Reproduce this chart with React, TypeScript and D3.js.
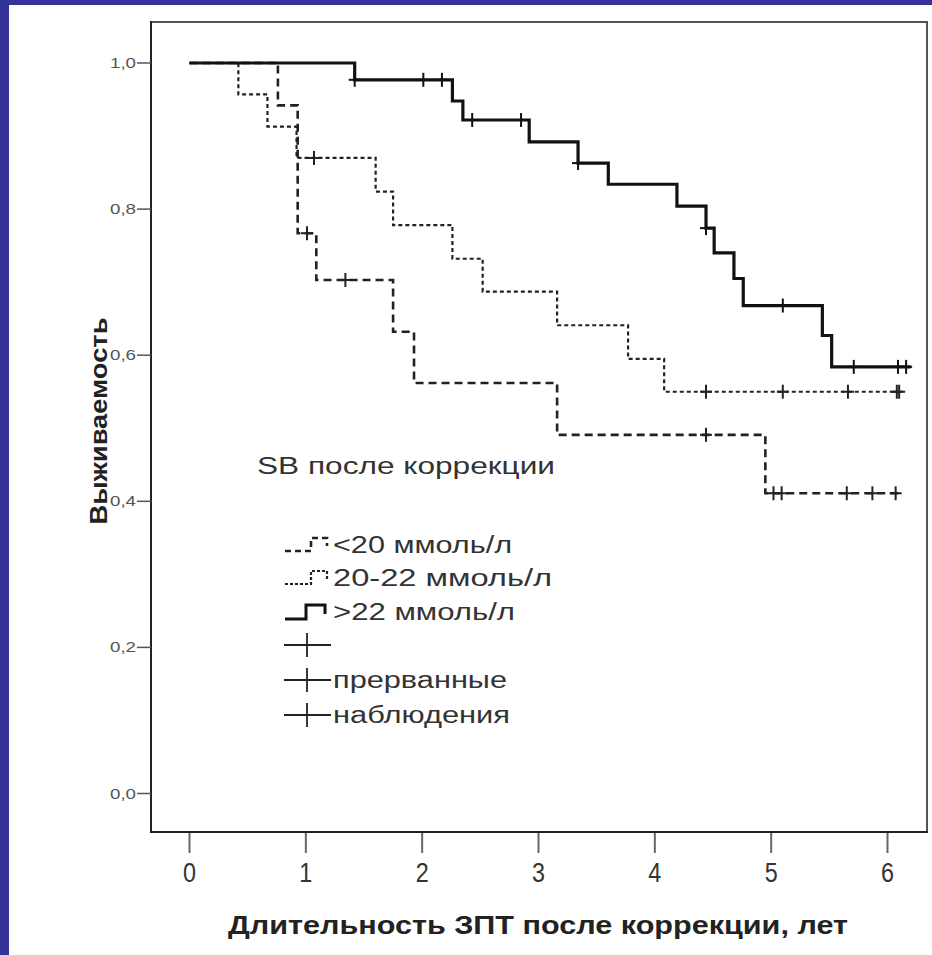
import React from "react";
import * as d3 from "d3";

// ---- data ----
const xTicks = [0, 1, 2, 3, 4, 5, 6];
const yTicks = [0, 0.2, 0.4, 0.6, 0.8, 1.0];
const yTickLabels = ["0,0", "0,2", "0,4", "0,6", "0,8", "1,0"];

// <20 ммоль/л (dashed)
const lt20Times = [0, 0.76, 0.93, 1.09, 1.75, 1.93, 3.16, 4.95, 6.13];
const lt20Surv = [1.0, 0.942, 0.767, 0.703, 0.632, 0.562, 0.491, 0.411, 0.411];
const lt20Censor = [1.01, 1.34, 4.44, 5.02, 5.09, 5.65, 5.87, 6.07];

// 20-22 ммоль/л (dotted)
const midTimes = [0, 0.42, 0.67, 0.92, 1.6, 1.75, 2.26, 2.52, 3.16, 3.77, 4.08, 6.13];
const midSurv = [1.0, 0.957, 0.913, 0.87, 0.824, 0.778, 0.732, 0.687, 0.641, 0.595, 0.55, 0.55];
const midCensor = [1.07, 4.44, 5.1, 5.66, 6.08, 6.1];

// >22 ммоль/л (solid)
const gt22Times = [0, 1.42, 2.26, 2.35, 2.92, 3.34, 3.6, 4.19, 4.44, 4.51, 4.68, 4.76, 5.44, 5.52, 6.2];
const gt22Surv = [1.0, 0.977, 0.948, 0.922, 0.892, 0.863, 0.834, 0.804, 0.774, 0.74, 0.705, 0.668, 0.627, 0.584, 0.584];
const gt22Censor = [1.42, 2.01, 2.17, 2.43, 2.85, 3.34, 4.44, 5.1, 5.71, 6.09, 6.16];

const legendTitle = "SB после коррекции";
const legendLabels = ["<20 ммоль/л", "20-22 ммоль/л", ">22 ммоль/л", "", "прерванные", "наблюдения"];
const xTitle = "Длительность ЗПТ после коррекции, лет";
const yTitle = "Выживаемость";

const FONT = "'Liberation Sans', Arial, sans-serif";

export default function App() {
  const x = d3.scaleLinear().domain([0, 6]).range([189.5, 887.5]);
  const y = d3.scaleLinear().domain([0, 1]).range([793.5, 63]);

  const line = d3
    .line<[number, number]>()
    .x((d) => x(d[0]))
    .y((d) => y(d[1]))
    .curve(d3.curveStepAfter);

  const survAt = (times: number[], surv: number[], t: number) => {
    const i = d3.bisectRight(times, t) - 1;
    return surv[Math.max(0, i)];
  };

  const series = [
    { times: lt20Times, surv: lt20Surv, censor: lt20Censor, width: 2.6, dash: "8,5", color: "#222" },
    { times: midTimes, surv: midSurv, censor: midCensor, width: 2.2, dash: "4,3", color: "#222" },
    { times: gt22Times, surv: gt22Surv, censor: gt22Censor, width: 3.2, dash: "", color: "#111" },
  ];

  const legendRowsY = [545, 578, 612, 645, 680, 715];
  const legendTextLen = [179, 219, 182, 0, 174, 177];

  return (
    <svg
      width={932}
      height={955}
      style={{ position: "absolute", left: 0, top: 0, background: "#fff" }}
    >
      <rect x={0} y={0} width={932} height={955} fill="#fff" />
      <rect x={0} y={0} width={932} height={5} fill="#333399" />
      <rect x={0} y={0} width={9} height={955} fill="#333399" />

      {/* frame */}
      <rect x={151} y={22} width={776} height={810} fill="none" stroke="#555" strokeWidth={2} />
      <line x1={151} y1={21} x2={151} y2={833} stroke="#222" strokeWidth={2} />
      <line x1={150} y1={832} x2={928} y2={832} stroke="#222" strokeWidth={2} />

      {/* y ticks */}
      {yTicks.map((v, i) => (
        <g key={"y" + i}>
          <line x1={137} x2={151} y1={y(v)} y2={y(v)} stroke="#555" strokeWidth={1.5} />
          <text
            x={136}
            y={y(v) + 5}
            textAnchor="end"
            fontFamily={FONT}
            fontSize={15}
            fill="#555"
            textLength={26}
            lengthAdjust="spacingAndGlyphs"
          >
            {yTickLabels[i]}
          </text>
        </g>
      ))}

      {/* x ticks */}
      {xTicks.map((v) => (
        <g key={"x" + v}>
          <line x1={x(v)} x2={x(v)} y1={833} y2={853} stroke="#666" strokeWidth={2} />
          <text
            x={x(v)}
            y={882}
            textAnchor="middle"
            fontFamily={FONT}
            fontSize={27}
            fill="#333"
            textLength={13}
            lengthAdjust="spacingAndGlyphs"
          >
            {String(v)}
          </text>
        </g>
      ))}

      {/* axis titles */}
      <text
        x={538}
        y={934}
        textAnchor="middle"
        fontFamily={FONT}
        fontWeight="bold"
        fontSize={25}
        fill="#222"
        textLength={620}
        lengthAdjust="spacingAndGlyphs"
      >
        {xTitle}
      </text>
      <text
        transform={`translate(107,421) rotate(-90)`}
        textAnchor="middle"
        fontFamily={FONT}
        fontWeight="bold"
        fontSize={23}
        fill="#222"
        textLength={207}
        lengthAdjust="spacingAndGlyphs"
      >
        {yTitle}
      </text>

      {/* curves */}
      {series.map((s, i) => {
        const pts: [number, number][] = s.times.map((t, j) => [t, s.surv[j]]);
        return (
          <g key={"s" + i}>
            <path
              d={line(pts) || ""}
              fill="none"
              stroke={s.color}
              strokeWidth={s.width}
              strokeDasharray={s.dash || undefined}
            />
            {s.censor.map((t, k) => {
              const cx = x(t);
              const cy = y(survAt(s.times, s.surv, t));
              return (
                <g key={k} stroke={s.color} strokeWidth={2}>
                  <line x1={cx} x2={cx} y1={cy - 7} y2={cy + 7} />
                  <line x1={cx - 6} x2={cx + 6} y1={cy} y2={cy} />
                </g>
              );
            })}
          </g>
        );
      })}

      {/* legend */}
      <text
        x={257}
        y={474}
        fontFamily={FONT}
        fontSize={23}
        fill="#333"
        textLength={298}
        lengthAdjust="spacingAndGlyphs"
      >
        {legendTitle}
      </text>
      {/* legend symbols */}
      <path
        d={`M285,${legendRowsY[0] + 6} H311 V${legendRowsY[0] - 7} H327 V${legendRowsY[0] + 1}`}
        fill="none"
        stroke="#222"
        strokeWidth={2.6}
        strokeDasharray="6,4"
      />
      <path
        d={`M285,${legendRowsY[1] + 6} H311 V${legendRowsY[1] - 7} H327 V${legendRowsY[1] + 1}`}
        fill="none"
        stroke="#222"
        strokeWidth={2.2}
        strokeDasharray="3,2"
      />
      <path
        d={`M285,${legendRowsY[2] + 7} H306 V${legendRowsY[2] - 7} H325 V${legendRowsY[2] + 2}`}
        fill="none"
        stroke="#111"
        strokeWidth={3}
      />
      {[3, 4, 5].map((r) => (
        <g key={"lc" + r} stroke="#222" strokeWidth={1.8}>
          <line x1={284} x2={331} y1={legendRowsY[r]} y2={legendRowsY[r]} />
          <line x1={307} x2={307} y1={legendRowsY[r] - 12} y2={legendRowsY[r] + 12} />
        </g>
      ))}
      {legendLabels.map((lab, i) =>
        lab ? (
          <text
            key={"lt" + i}
            x={333}
            y={legendRowsY[i] + 8}
            fontFamily={FONT}
            fontSize={23}
            fill="#333"
            textLength={legendTextLen[i]}
            lengthAdjust="spacingAndGlyphs"
          >
            {lab}
          </text>
        ) : null
      )}
    </svg>
  );
}
